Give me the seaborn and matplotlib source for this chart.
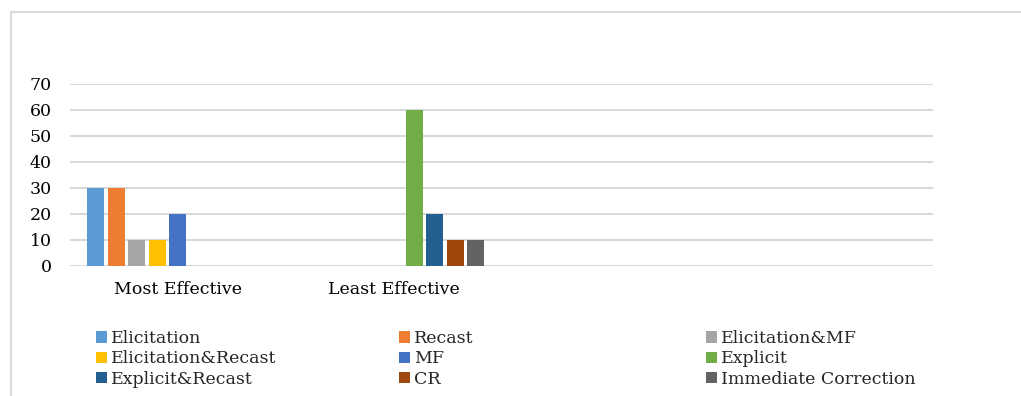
import matplotlib
matplotlib.use("Agg")
import matplotlib.pyplot as plt
from matplotlib.patches import Patch, Rectangle
import pandas as pd
import seaborn as sns

# Chart data
categories = ["Most Effective", "Least Effective"]
series_names = [
    "Elicitation", "Recast", "Elicitation&MF",
    "Elicitation&Recast", "MF", "Explicit",
    "Explicit&Recast", "CR", "Immediate Correction",
]
elicitation = [30, 0]
recast = [30, 0]
elicitation_mf = [10, 0]
elicitation_recast = [10, 0]
mf = [20, 0]
explicit = [0, 60]
explicit_recast = [0, 20]
cr = [0, 10]
immediate_correction = [0, 10]
y_ticks = [0, 10, 20, 30, 40, 50, 60, 70]

series_values = [
    elicitation, recast, elicitation_mf, elicitation_recast, mf,
    explicit, explicit_recast, cr, immediate_correction,
]
colors = ["#5B9BD5", "#ED7D31", "#A5A5A5", "#FFC000", "#4472C4",
          "#70AD47", "#255E91", "#9E480E", "#636363"]

rows = []
for name, vals in zip(series_names, series_values):
    for cat, v in zip(categories, vals):
        rows.append({"category": cat, "series": name, "value": v})
df = pd.DataFrame(rows)

sns.set_theme(style="white")
plt.rcParams["font.family"] = ["DejaVu Serif"]

W, H = 1021, 396
fig = plt.figure(figsize=(W / 100, H / 100), dpi=100)
ax = fig.add_axes([70 / W, 1 - 266 / H, (933 - 70) / W, (266 - 84) / H])

palette = dict(zip(series_names, colors))
sns.barplot(data=df, x="category", y="value", hue="series",
            order=categories, hue_order=series_names, palette=palette,
            width=0.856, gap=0.17, linewidth=0, saturation=1,
            legend=False, ax=ax)

# Two empty category slots follow the labelled ones
ax.set_xlim(-0.5, 3.5)
ax.set_ylim(0, 70)
ax.set_yticks(y_ticks)
ax.set_xticks([0, 1])
ax.set_xticklabels(categories)
ax.set_xlabel("")
ax.set_ylabel("")
ax.yaxis.grid(True, color="#D9D9D9", linewidth=1.5)
ax.set_axisbelow(True)
for s in ax.spines.values():
    s.set_visible(False)
ax.tick_params(axis="y", length=0, pad=13, labelsize=12.5, labelcolor="#000000")
ax.tick_params(axis="x", length=0, pad=11, labelsize=12.5, labelcolor="#000000")

# Legend: three columns laid out row by row
col_x = [96 / W, 399 / W, 706 / W]
for c in range(3):
    handles = []
    for r in range(3):
        i = r * 3 + c
        handles.append(Patch(facecolor=colors[i], edgecolor="none",
                             label=series_names[i]))
    leg = fig.legend(handles=handles, loc="upper left",
                     bbox_to_anchor=(col_x[c], 1 - 330 / H),
                     frameon=False, fontsize=12.5, handlelength=0.62,
                     handleheight=0.62, handletextpad=0.25,
                     labelspacing=0.2, borderpad=0, borderaxespad=0)

# Chart area border
fig.patches.append(Rectangle((11 / W, -0.1), 1.2, 1.1 - 12 / H,
                             transform=fig.transFigure, fill=False,
                             edgecolor="#D9D9D9", linewidth=1.5))

fig.savefig("out.png", dpi=100, facecolor="white")
